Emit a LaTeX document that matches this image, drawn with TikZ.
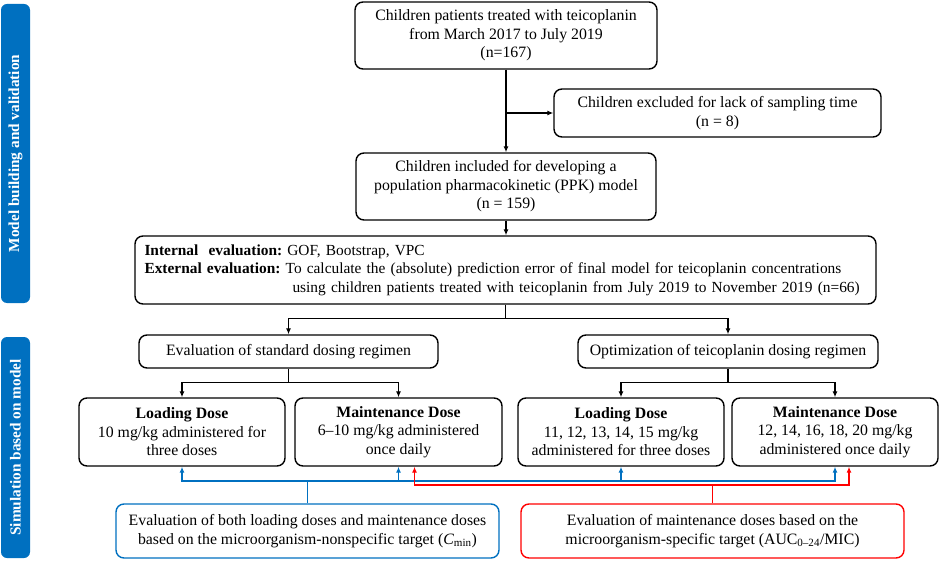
\documentclass[tikz,border=0pt]{standalone}
\usepackage{fontspec}
\setmainfont{Liberation Serif}
\usetikzlibrary{calc,arrows.meta}
\definecolor{sideblue}{HTML}{0070C0}
\definecolor{linkred}{HTML}{FF0000}
\frenchspacing
\newcommand{\boxfont}{\fontsize{15.8}{18.5}\selectfont}
\tikzset{
	box/.style={draw, rounded corners=8pt, line width=1.4pt, align=center, inner sep=0pt, font=\boxfont},
	sidebar/.style={fill=sideblue, rounded corners=6pt, rotate=90, inner sep=0pt, minimum height=29pt, text=white, font=\fontsize{15.3}{18}\selectfont\bfseries},
	arr/.style={line width=1.4pt, -{Latex[length=6pt,width=5pt]}},
	bluearr/.style={arr, draw=sideblue, color=sideblue, line width=1.8pt},
	redarr/.style={arr, draw=linkred, color=linkred, line width=1.8pt}
}

\begin{document}
\begin{tikzpicture}[x=1pt, y=-1pt]
		%%%%% START %%%%%
		\useasboundingbox (0, 0) rectangle (941, 561);
		
		\node[sidebar, minimum width=299pt] (model) at (15.5, 153.5) {Model building and validation};
		\node[sidebar, minimum width=221pt] (simul) at (15.5, 447.5) {Simulation based on model};
		
		\node[box, minimum width=302pt, minimum height=67pt] (patients) at (506, 35.5) {Children patients treated with teicoplanin\\from March 2017 to July 2019\\(n=167)};
		\node[box, minimum width=327pt, minimum height=48pt] (excluded) at (717.5, 113) {Children excluded for lack of sampling time\\(n = 8)};
		\node[box, minimum width=300pt, minimum height=67pt] (included) at (506, 186.5) {Children included for developing a\\population pharmacokinetic (PPK) model\\(n = 159)};
		\node[box, minimum width=741pt, minimum height=68pt, text width=722pt, align=left, font=\fontsize{15.4}{18.5}\selectfont\frenchspacing] (evalbox) at (505.5, 270) {\textbf{Internal\ \ evaluation:} GOF, Bootstrap, VPC\\\textbf{External evaluation:} To calculate the (absolute) prediction error of final model for teicoplanin concentrations\\\hspace*{148pt}using children patients treated with teicoplanin from July 2019 to November 2019 (n=66)};
		
		\node[box, minimum width=299pt, minimum height=33pt] (standard) at (288.5, 351.5) {Evaluation of standard dosing regimen};
		\node[box, minimum width=300pt, minimum height=33pt] (optim) at (728, 351.5) {Optimization of teicoplanin dosing regimen};
		
		\node[box, minimum width=206pt, minimum height=68pt] (ldstd) at (182, 432) {\textbf{Loading Dose}\\10 mg/kg administered for\\three doses};
		\node[box, minimum width=207pt, minimum height=68pt] (mdstd) at (398.5, 432) {\textbf{Maintenance Dose}\\6–10 mg/kg administered\\once daily};
		\node[box, minimum width=206pt, minimum height=68pt] (ldopt) at (621, 432) {\textbf{Loading Dose}\\11, 12, 13, 14, 15 mg/kg\\administered for three doses};
		\node[box, minimum width=206pt, minimum height=68pt] (mdopt) at (835, 432) {\textbf{Maintenance Dose}\\12, 14, 16, 18, 20 mg/kg\\administered once daily};
		
		\node[box, draw=sideblue, minimum width=383pt, minimum height=54pt] (nonspec) at (307.5, 531) {Evaluation of both loading doses and maintenance doses\\based on the microorganism-nonspecific target (\textit{C}\textsubscript{min})};
		\node[box, draw=linkred, minimum width=383pt, minimum height=54pt] (spec) at (712.5, 531) {Evaluation of maintenance doses based on the\\microorganism-specific target (AUC\textsubscript{0–24}/MIC)};
		
		% cohort
		\draw[arr] (patients.south) -- (included.north);
		\draw[arr] (patients.south |- excluded.west) -- (excluded.west);
		\draw[arr] (included.south) -- (included.south |- evalbox.north);
		
		% simulation branches
		\coordinate (split) at ($(evalbox.south)+(0, 14)$);
		\draw[line width=1.4pt] (evalbox.south) -- (split);
		\draw[arr] (split) -| (standard.north);
		\draw[arr] (split) -| (optim.north);
		
		\coordinate (stdsplit) at ($(standard.south)+(0, 14)$);
		\draw[line width=1.4pt] (standard.south) -- (stdsplit);
		\draw[arr] (stdsplit) -| (ldstd.north);
		\draw[arr] (stdsplit) -| (mdstd.north);
		
		\coordinate (optsplit) at ($(optim.south)+(0, 14)$);
		\draw[line width=1.4pt] (optim.south) -- (optsplit);
		\draw[arr] (optsplit) -| (ldopt.north);
		\draw[arr] (optsplit) -| (mdopt.north);
		
		% targets
		\coordinate (bluesplit) at ($(nonspec.north)+(0, -22)$);
		\draw[sideblue, line width=1.8pt] (nonspec.north) -- (bluesplit);
		\draw[bluearr] (bluesplit) -| (ldstd.south);
		\draw[bluearr] (bluesplit) -| (mdstd.south);
		\draw[bluearr] (bluesplit) -| (ldopt.south);
		\draw[bluearr] (bluesplit) -| (mdopt.south);
		
		\coordinate (redsplit) at ($(spec.north)+(0, -18)$);
		\draw[linkred, line width=1.8pt] (spec.north) -- (redsplit);
		\draw[redarr] (redsplit) -| ($(mdstd.south)+(16, 0)$);
		\draw[redarr] (redsplit) -| ($(mdopt.south)+(14, 0)$);
		%%%%% END %%%%%
\end{tikzpicture}
\end{document}
